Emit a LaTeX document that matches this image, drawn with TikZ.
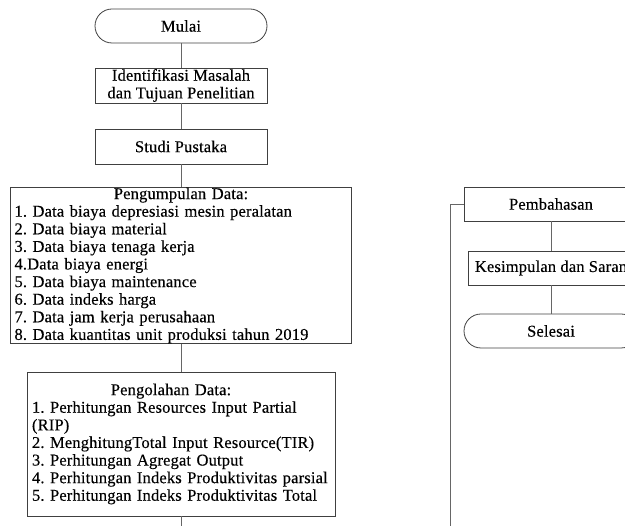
\documentclass[tikz,border=0pt]{standalone}
\usepackage{fontspec}
\setmainfont{Liberation Serif}[FakeBold=0.3, LetterSpace=1]
\begin{document}
\frenchspacing
\hyphenpenalty=10000
\exhyphenpenalty=10000
\begin{tikzpicture}[x=1pt,y=-1pt,
  every node/.style={font=\fontsize{16.5}{17.6}\selectfont, text=black},
  box/.style={draw=black!75, line width=0.8pt, rectangle, minimum height=34pt, inner sep=0pt, align=center},
  term/.style={box, rounded corners=17pt},
  listbox/.style={box, align=left, inner xsep=4pt, inner ysep=0pt},
  link/.style={draw=black!60, line width=0.8pt}]
\useasboundingbox (0,0) rectangle (625,526);
\clip (0,0) rectangle (625,526);
% left column
\node[term, minimum width=172pt] (mulai) at (181,26) {Mulai};
\node[box, minimum width=172pt, minimum height=35pt] (ident) at (181,85.5) {Identifikasi Masalah\\dan Tujuan Penelitian};
\node[box, minimum width=172pt, minimum height=35pt] (studi) at (181,146.5) {Studi Pustaka};
\node[listbox, minimum width=341pt, minimum height=153pt, text width=333pt] (kumpul) at (181,265.5)
 {\makebox[333pt]{Pengumpulan Data:}\\
  1. Data biaya depresiasi mesin peralatan\\
  2. Data biaya material\\
  3. Data biaya tenaga kerja\\
  4.Data biaya energi\\
  5. Data biaya maintenance\\
  6. Data indeks harga\\
  7. Data jam kerja perusahaan\\
  8. Data kuantitas unit produksi tahun 2019};
\node[listbox, minimum width=306pt, minimum height=144pt, text width=298pt, inner xsep=5pt] (olah) at (181,444)
 {\makebox[278pt]{Pengolahan Data:}\\
  1. Perhitungan Resources Input Partial\\
  (RIP)\\
  2. MenghitungTotal Input Resource(TIR)\\
  3. Perhitungan Agregat Output\\
  4. Perhitungan Indeks Produktivitas parsial\\
  5. Perhitungan Indeks Produktivitas Total};
\coordinate (lbot) at (181,530);
% right column
\node[box, minimum width=174pt] (bahas) at (551,204) {Pembahasan};
\node[box, minimum width=166pt] (simpul) at (551,268) {Kesimpulan dan Saran};
\node[term, minimum width=174pt] (selesai) at (551,331) {Selesai};
\coordinate (rtop) at (450,204);
\coordinate (rbot) at (450,530);
% connectors
\draw[link] (mulai) -- (ident);
\draw[link] (ident) -- (studi);
\draw[link] (studi) -- (kumpul);
\draw[link] (kumpul) -- (olah);
\draw[link] (olah) -- (lbot);
\draw[link] (bahas.west) -- (rtop) -- (rbot);
\draw[link] (bahas) -- (simpul);
\draw[link] (simpul) -- (selesai);
\end{tikzpicture}
\end{document}
